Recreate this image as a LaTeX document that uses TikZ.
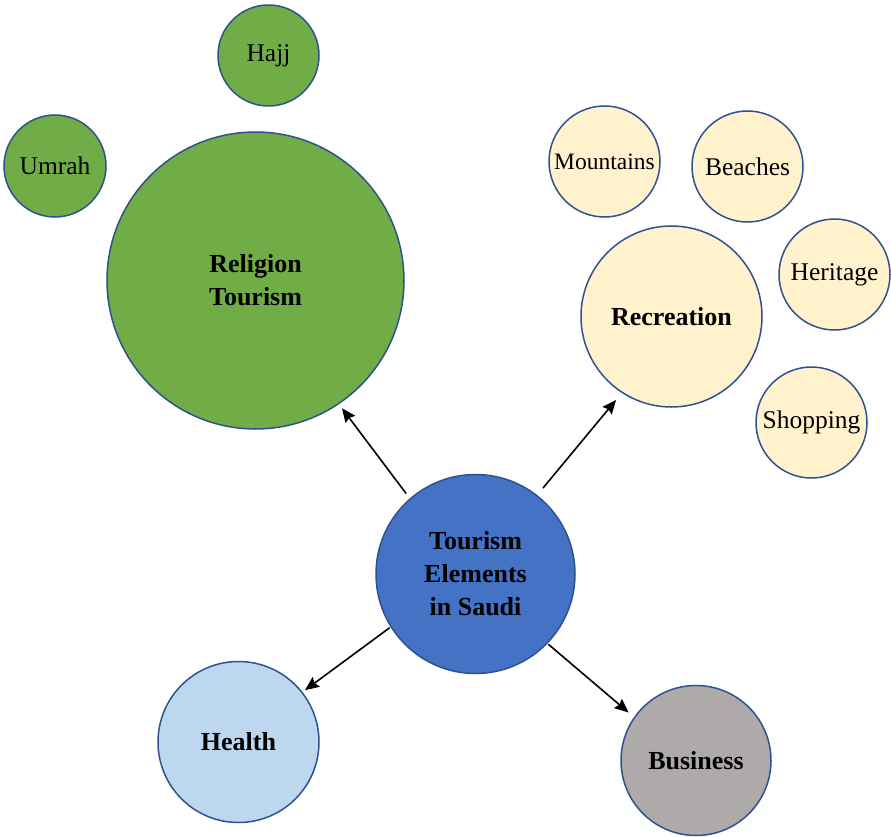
\documentclass[tikz,border=0pt]{standalone}
\usepackage{fontspec}
\setmainfont{Liberation Serif}
\usetikzlibrary{arrows.meta}

\definecolor{rim}{HTML}{2F528F}
\definecolor{religion}{HTML}{70AD47}
\definecolor{core}{HTML}{4472C4}
\definecolor{cream}{HTML}{FFF2CC}
\definecolor{health}{HTML}{BDD7EE}
\definecolor{business}{HTML}{AEAAAA}

\tikzset{
    bubble/.style={circle, draw=rim, line width=1.5pt, inner sep=0pt,
        align=center, font=\fontsize{25.5}{30}\selectfont},
    topic/.style={bubble, font=\bfseries\fontsize{26}{33}\selectfont},
    link/.style={-{Stealth[length=14pt,width=12pt,inset=2pt]}, line width=1.6pt}
}

\begin{document}
\begin{tikzpicture}[x=1pt, y=-1pt]
        \useasboundingbox (0,0) rectangle (891,837);

        % Main element in the middle
        \node[topic, fill=core, minimum size=199pt] (core) at (475.5,574) {Tourism\\Elements\\in Saudi};

        % First level
        \node[topic, fill=religion, minimum size=297pt] (religion) at (255.5,280.5) {Religion\\Tourism};
        \node[topic, fill=cream, minimum size=181pt]    (recreation) at (671.5,316.5) {Recreation};
        \node[topic, fill=health, minimum size=161pt]   (health) at (238.5,742) {Health};
        \node[topic, fill=business, minimum size=150pt] (business) at (696,760.5) {Business};

        % Religion tourism
        \node[bubble, fill=religion, minimum size=101pt] (hajj)  at (268.5,55.5) {Hajj};
        \node[bubble, fill=religion, minimum size=102pt] (umrah) at (55,166) {Umrah};

        % Recreation
        \node[bubble, fill=cream, minimum size=111pt, font=\fontsize{23.5}{28}\selectfont] (mountains) at (604.5,161.5) {Mountains};
        \node[bubble, fill=cream, minimum size=111pt] (beaches)  at (747.5,166.5) {Beaches};
        \node[bubble, fill=cream, minimum size=111pt] (heritage) at (834.5,274.5) {Heritage};
        \node[bubble, fill=cream, minimum size=111pt] (shopping) at (811.5,422.5) {Shopping};

        \draw[link, shorten <=6pt, shorten >=5pt] (core.131) -- (religion.-56);
        \draw[link, shorten <=9pt, shorten >=9pt] (core.52) -- (recreation.-123);
        \draw[link, shorten <=1pt, shorten >=3pt] (core.-148) -- (health.38);
        \draw[link, shorten <=1pt, shorten >=7pt] (core.-44) -- (business.145);
\end{tikzpicture}
\end{document}
